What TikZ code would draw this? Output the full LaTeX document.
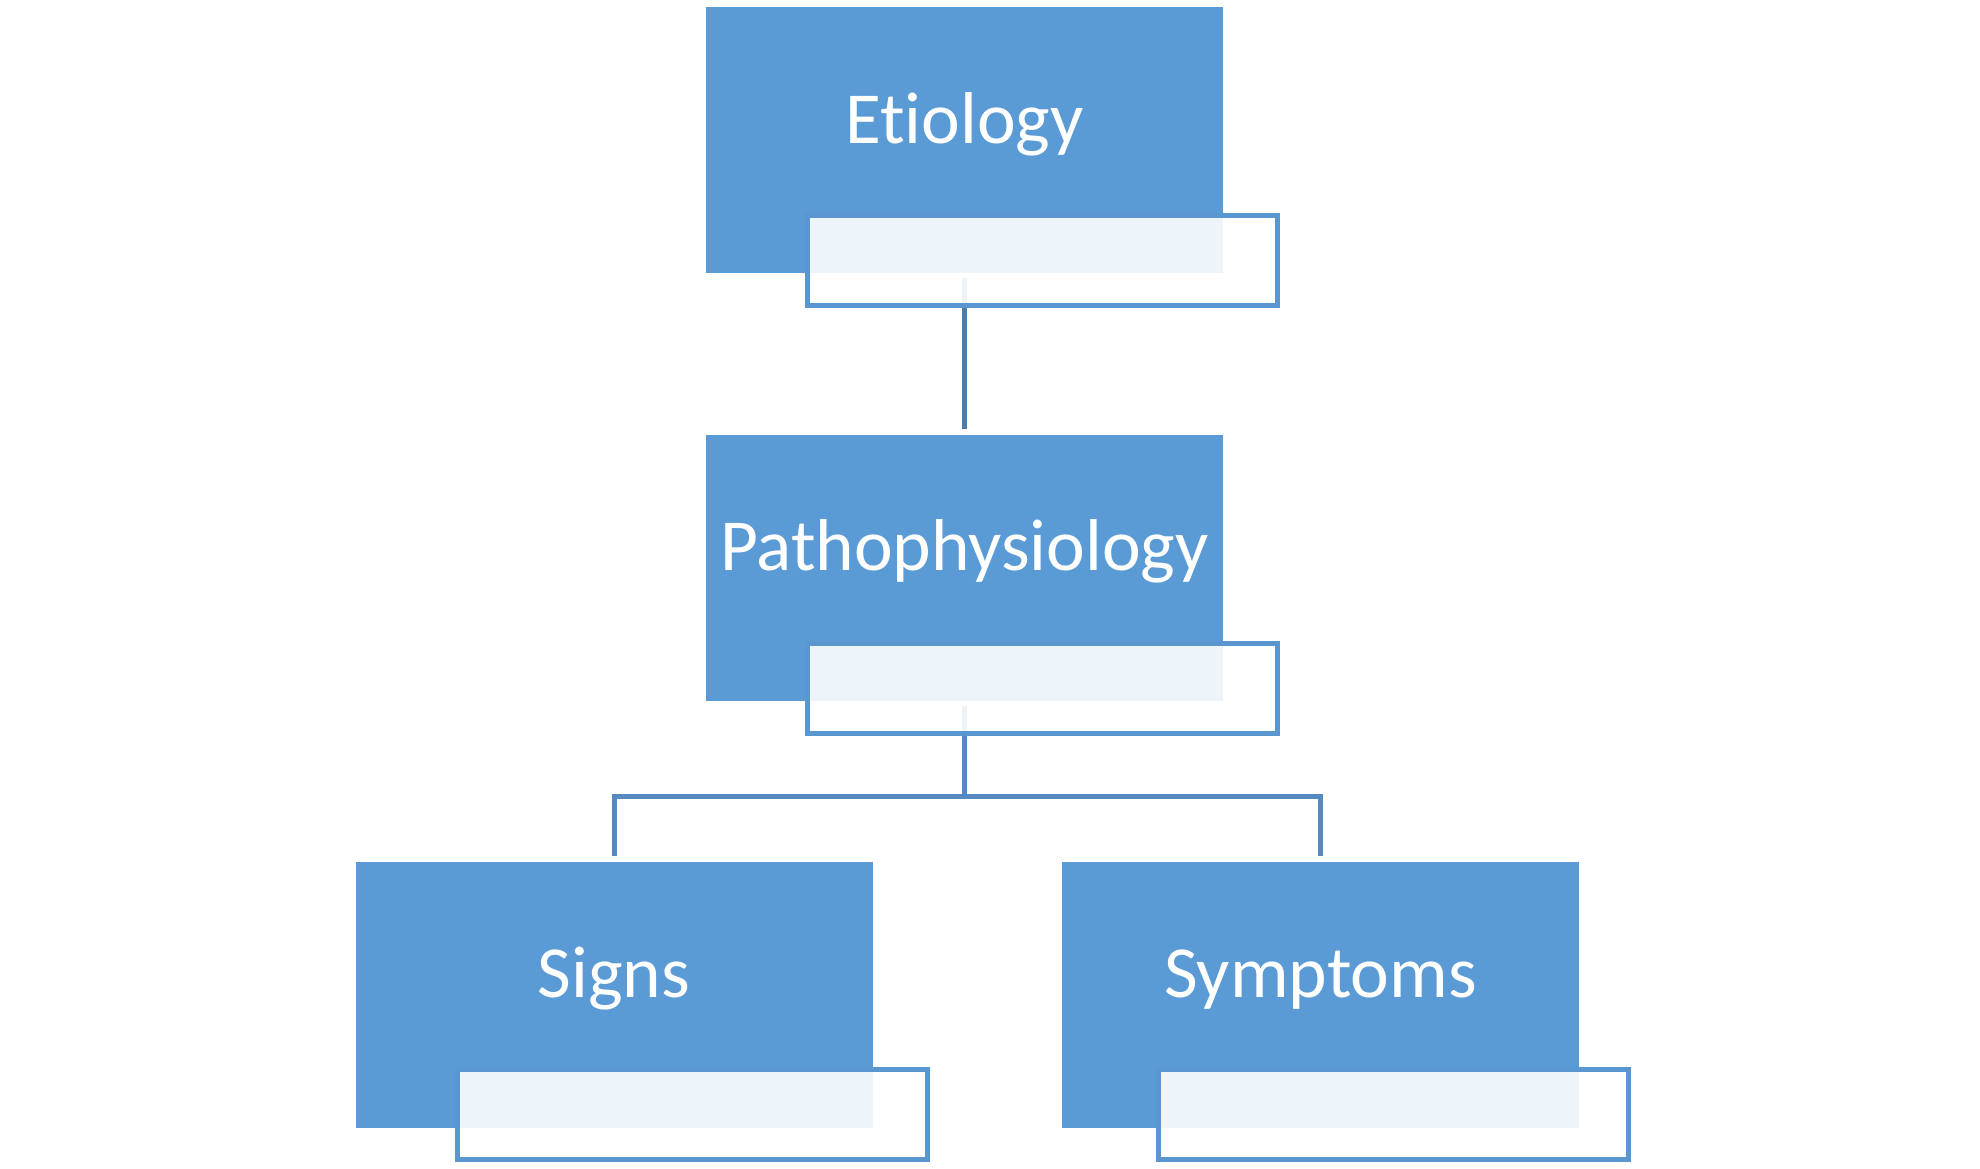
\documentclass[tikz,border=0pt]{standalone}
\usepackage{fontspec}
\setmainfont{Carlito}[Ligatures={NoCommon,NoRequired,NoContextual}]
\definecolor{boxblue}{HTML}{5B9BD5}
\definecolor{tbline}{HTML}{5A96CF}
\definecolor{conntop}{HTML}{4A7DAE}
\definecolor{connlow}{HTML}{5689C0}
\tikzset{
  bluebox/.style={rectangle, fill=boxblue, draw=none, inner sep=0pt, outer sep=0pt,
    minimum width=258.5pt, minimum height=133pt},
  textbox/.style={rectangle, fill=white, fill opacity=0.9, draw=tbline, draw opacity=1,
    line width=2.5pt, inner sep=0pt, outer sep=0pt,
    minimum width=235pt, minimum height=45pt},
  lbl/.style={text=white, font=\fontsize{36.7}{44}\selectfont, inner sep=0pt, anchor=base},
  conn/.style={line width=2.5pt, line join=miter},
}
\begin{document}
\begin{tikzpicture}[x=0.5pt,y=-0.5pt]
\fill[white] (0,0) rectangle (1980,1168);
\useasboundingbox (0,0) rectangle (1980,1168);

% main boxes
\node[bluebox] (eti) at (964.5,140) {};
\node[bluebox] (pat) at (964.5,567.5) {};
\node[bluebox] (sig) at (614,994.5) {};
\node[bluebox] (sym) at (1320.5,994.5) {};

% connectors
\coordinate (bus) at (964.5,796);
\draw[conn, draw=conntop] ([yshift=-2.5pt]eti.south) -- ([yshift=3pt]pat.north);
\draw[conn, draw=connlow] ([yshift=-2.5pt]pat.south) -- (bus);
\draw[conn, draw=connlow] ([yshift=3pt]sig.north) |- (bus) -| ([yshift=3pt]sym.north);

% labels
\node[lbl] (etiT) at ([yshift=-68pt]eti.north) {Etiology};
\node[lbl] (patT) at ([yshift=-68pt]pat.north) {Pathophysiology};
\node[lbl] (sigT) at ([yshift=-68pt]sig.north) {Signs};
\node[lbl] (symT) at ([yshift=-68pt]sym.north) {Symptoms};

% overlapping text boxes
\node[textbox] (etiB) at (1042.5,260.75) {};
\node[textbox] (patB) at (1042.5,688.25) {};
\node[textbox] (sigB) at (692.25,1114.5) {};
\node[textbox] (symB) at (1393.25,1114.5) {};
\end{tikzpicture}
\end{document}
